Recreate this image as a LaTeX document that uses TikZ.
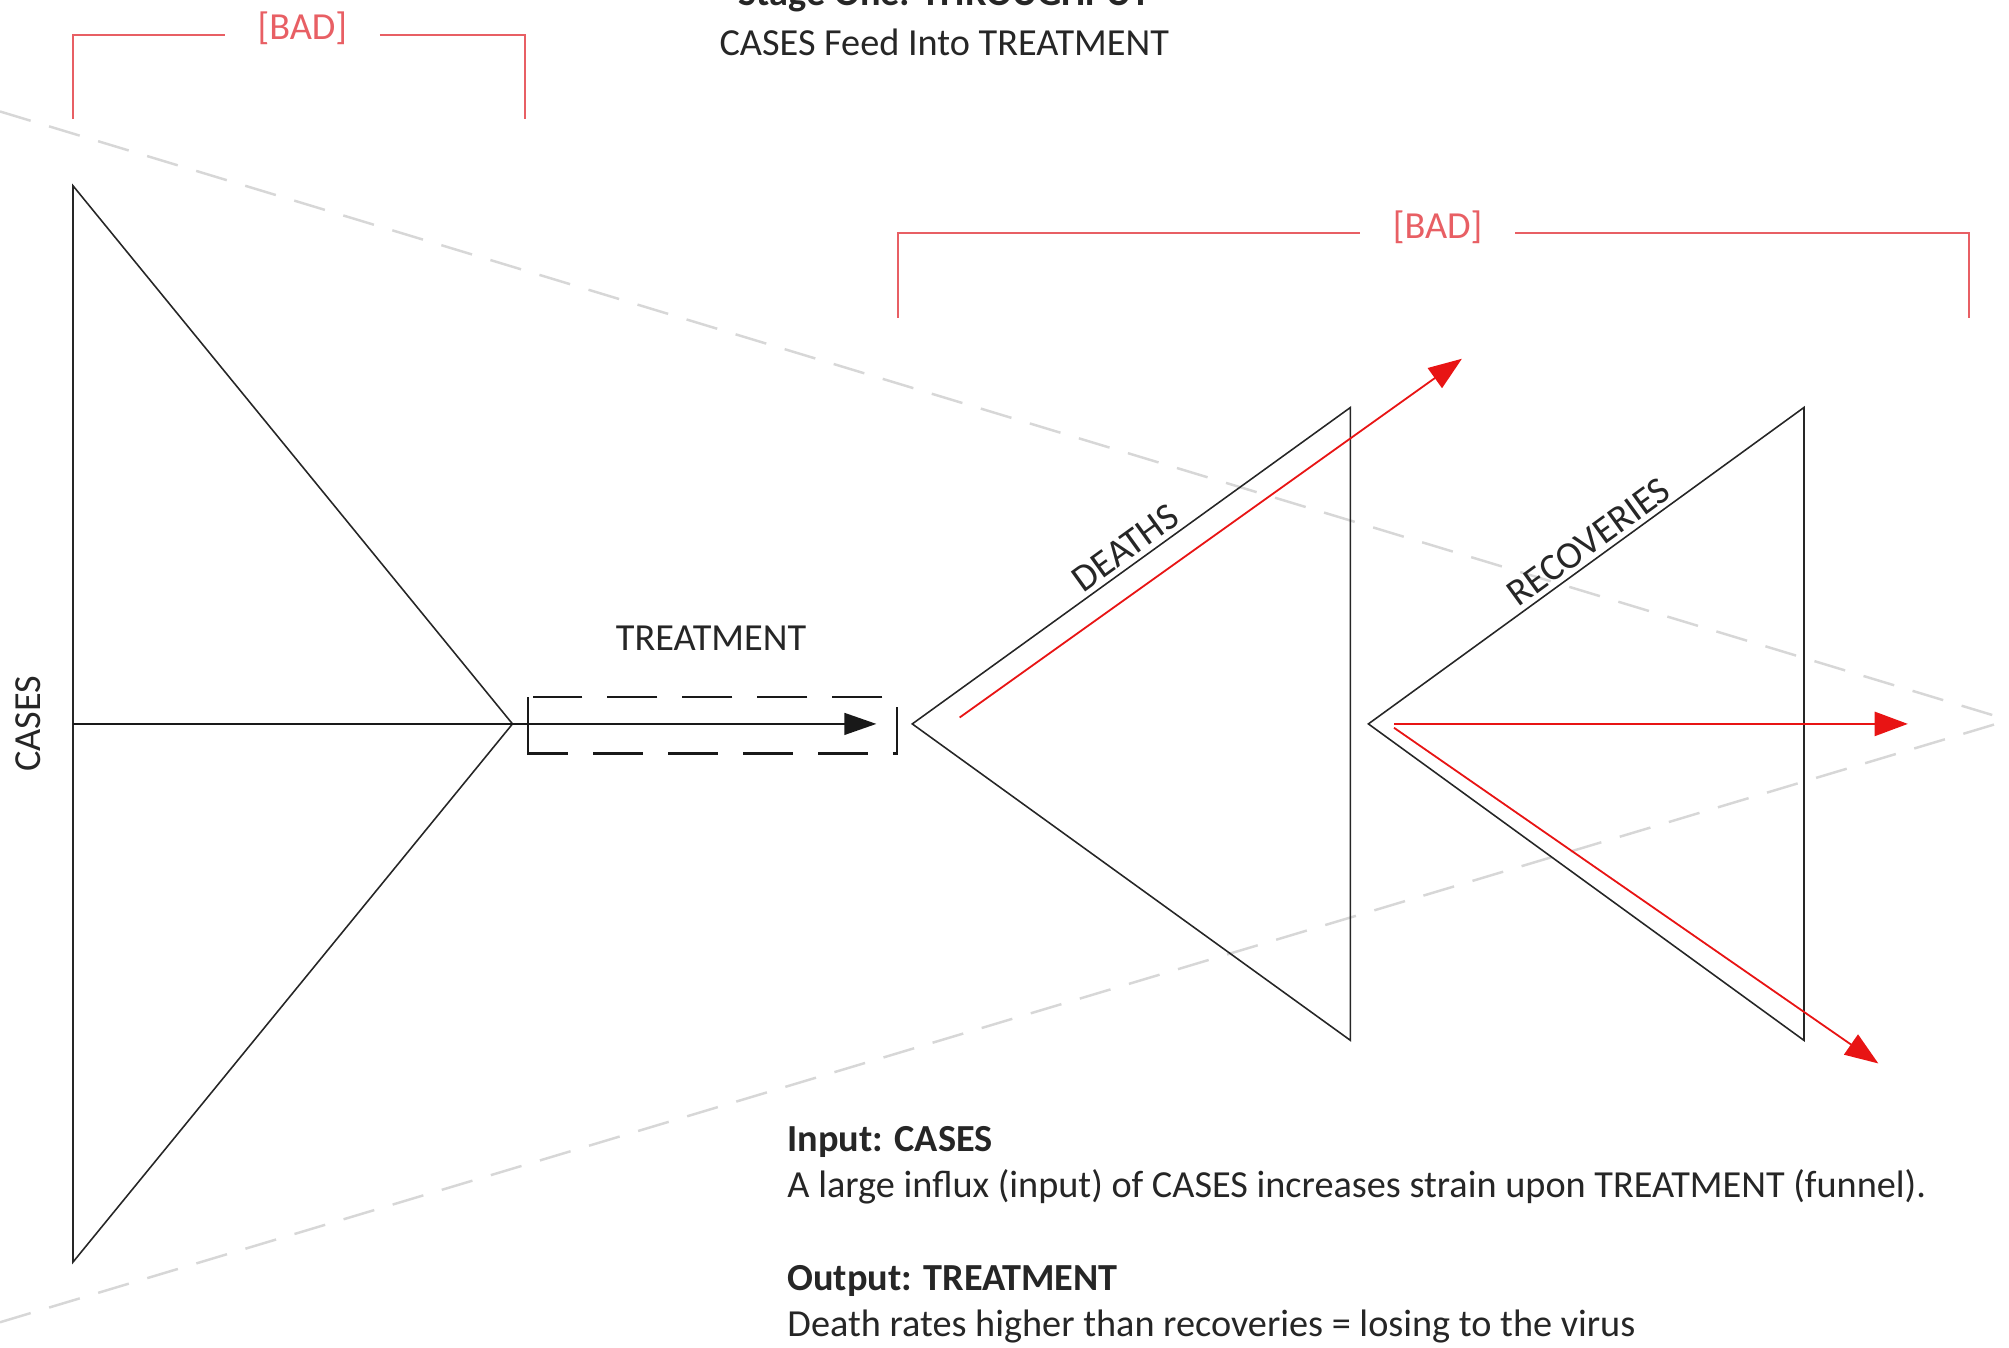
\documentclass[tikz,border=0pt]{standalone}
\usepackage{fontspec}
\setmainfont{Carlito}
\usetikzlibrary{arrows.meta}
\definecolor{badred}{RGB}{232,95,100}
\definecolor{flowred}{RGB}{232,20,20}
\definecolor{guidegray}{RGB}{215,215,215}
\begin{document}
\begin{tikzpicture}[x=0.02cm,y=-0.02cm,line width=0.7pt,
  funnel/.style={draw=black!85,line join=miter},
  bracket/.style={draw=badred,line width=0.9pt},
  bad label/.style={text=badred,inner xsep=0.5cm,font=\fontsize{17}{20}\selectfont},
  main label/.style={text=black!85,inner sep=2pt,font=\fontsize{17}{20}\selectfont},
  flow/.style={draw=flowred,line width=0.8pt,-{Triangle[length=0.52cm,width=0.38cm]}},
  guide/.style={draw=guidegray,line width=1.1pt,dash pattern=on 0.5cm off 0.3cm}]

  \useasboundingbox (0,0) rectangle (1568,1052);

  % light guide lines meeting on the right
  \coordinate (apex) at (1568,562);
  \coordinate (g1) at (0,87);
  \coordinate (g2) at (0,1032);
  \draw[guide] (g1) -- (apex);
  \draw[guide] (g2) -- (apex);

  % titles
  \node[main label,anchor=base,font=\fontsize{17}{20}\selectfont\bfseries] (title) at (737,4) {Stage One: THROUGHPUT};
  \node[main label] (subtitle) at (737,33) {CASES Feed Into TREATMENT};

  % cases funnel
  \coordinate (c1) at (57,145);
  \coordinate (c2) at (400,565);
  \coordinate (c3) at (57,985);
  \coordinate (cmid) at (57,565);
  \draw[funnel] (c1) -- (c2) -- (c3) -- cycle;
  \node[main label,rotate=90] (cases) at (22,565) {CASES};

  % treatment pipe
  \coordinate (t1) at (412,544);
  \coordinate (t2) at (700,588);
  \coordinate (tend) at (684,565);
  \draw[black!90,line width=1.1pt,dash pattern=on 0.78cm off 0.39cm,dash phase=0.44cm] (t1) rectangle (t2);
  \draw[black!90,line width=1.1pt] (t1) -- (412,582);
  \draw[black!90,line width=0.9pt,-{Triangle[length=0.5cm,width=0.34cm]}] (cmid) -- (tend);
  \node[main label] (treatment) at (555,498) {TREATMENT};

  % deaths funnel
  \coordinate (d1) at (712,565);
  \coordinate (d2) at (1054,318);
  \coordinate (d3) at (1054,812);
  \draw[funnel] (d1) -- (d2) -- (d3) -- cycle;
  \path (d1) -- node[main label,sloped,above,pos=0.51] (deaths) {DEATHS} (d2);

  % recoveries funnel
  \coordinate (r1) at (1068,565);
  \coordinate (r2) at (1408,318);
  \coordinate (r3) at (1408,812);
  \draw[funnel] (r1) -- (r2) -- (r3) -- cycle;
  \path (r1) -- node[main label,sloped,above,pos=0.53] (recoveries) {RECOVERIES} (r2);

  % outflows
  \coordinate (ds) at (749,560);
  \coordinate (de) at (1141,280);
  \coordinate (rs) at (1088,565);
  \coordinate (re) at (1489,565);
  \coordinate (rs2) at (1088,568);
  \coordinate (re2) at (1466,830);
  \draw[flow] (ds) -- (de);
  \draw[flow] (rs) -- (re);
  \draw[flow] (rs2) -- (re2);

  % [BAD] brackets
  \node[bad label] (bad1) at (236,22) {[BAD]};
  \draw[bracket] (57,93) |- ([yshift=-0.1cm]bad1.west);
  \draw[bracket] ([yshift=-0.1cm]bad1.east) -| (410,93);
  \node[bad label] (bad2) at (1122,177) {[BAD]};
  \draw[bracket] (701,248) |- ([yshift=-0.1cm]bad2.west);
  \draw[bracket] ([yshift=-0.1cm]bad2.east) -| (1537,248);

  % notes
  \node[main label,anchor=base west,align=left,inner sep=0pt,font=\fontsize{17}{20.5}\selectfont] (notes) at (614,1043)
    {\textbf{Input: CASES}\\
     A large influx (input) of CASES increases strain upon TREATMENT (funnel).\\[20.5pt]
     \textbf{Output: TREATMENT}\\
     Death rates higher than recoveries = losing to the virus};
\end{tikzpicture}
\end{document}
